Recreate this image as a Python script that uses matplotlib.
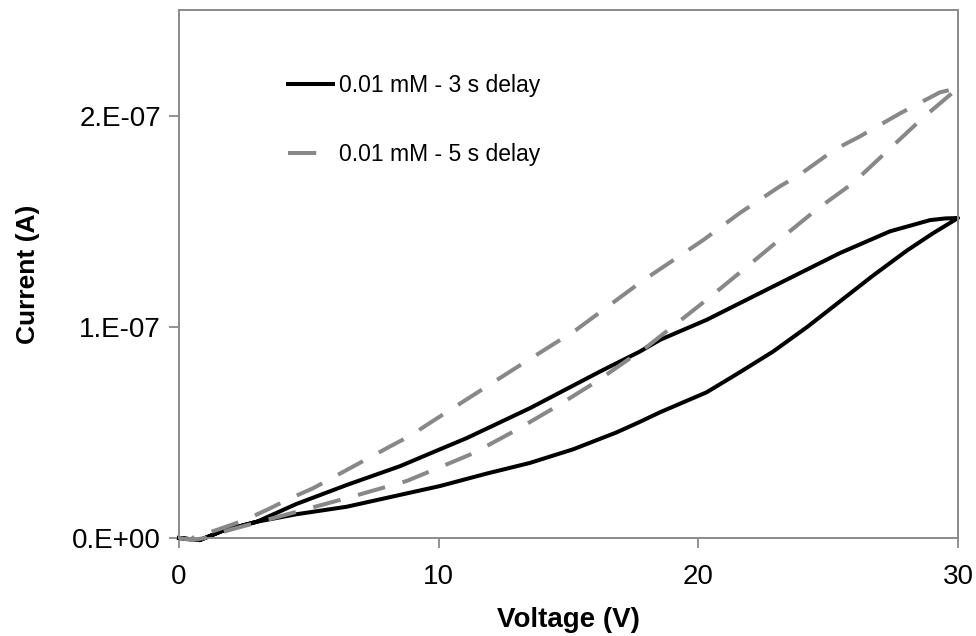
import numpy as np
import matplotlib.pyplot as plt

plt.rcParams['font.family'] = ['Liberation Sans', 'DejaVu Sans']

# 0.01 mM - 3 s delay (units of 1e-7 A), loop: out on lower branch, back on upper
v3 = [0, 0.8, 1.7, 3.0, 4.5, 6.46, 8.51, 10.05, 11.85, 13.5, 15.18, 16.85, 17.75, 18.52, 20.32,
      21.6, 22.88, 24.2, 25.45, 26.7, 28.02, 29.0, 30,
      29.5, 28.92, 27.38, 25.45, 22.88, 20.32, 18.52, 17.75, 16.21, 13.52, 11.08, 10.05, 8.51,
      6.46, 4.5, 3.0, 1.7, 0.8, 0]
i3 = [0, -0.01, 0.035, 0.077, 0.112, 0.148, 0.204, 0.246, 0.305, 0.355, 0.42, 0.5, 0.55, 0.595, 0.69,
      0.785, 0.883, 1.0, 1.12, 1.24, 1.36, 1.44, 1.515,
      1.513, 1.505, 1.452, 1.349, 1.191, 1.033, 0.938, 0.883, 0.788, 0.615, 0.473, 0.42, 0.34,
      0.251, 0.16, 0.077, 0.035, -0.01, 0]

# 0.01 mM - 5 s delay
v5 = [0, 0.5, 1, 2, 3.6, 5, 6.5, 8.77, 9.79, 11.33, 13.0, 14.5, 16.08, 17.56, 18.07, 20.32,
      21.73, 23.0, 24.55, 25.95, 27.3, 28.65, 30,
      29.3, 27.76, 26.2, 25.26, 23.9, 23.14, 21.6, 20.18, 17.82, 15.3, 12.75, 9.79, 8.89, 8.12,
      5.17, 4.15, 3.5, 2.54, 1.5, 0.5]
i5 = [0, -0.01, 0.0, 0.04, 0.093, 0.14, 0.19, 0.27, 0.322, 0.401, 0.512, 0.62, 0.741, 0.867, 0.91, 1.128,
      1.27, 1.40, 1.555, 1.68, 1.835, 1.99, 2.13,
      2.11, 2.01, 1.90, 1.84, 1.72, 1.665, 1.539, 1.41, 1.215, 0.986, 0.788, 0.555, 0.483, 0.433,
      0.236, 0.18, 0.14, 0.085, 0.04, 0.0]

fig = plt.figure(figsize=(9.76, 6.36), dpi=100)
ax = fig.add_axes([0.1834, 0.1541, 0.7982, 0.8302])

ax.plot(v3, np.array(i3) * 1e-7, color='black', lw=2.9, solid_joinstyle='round',
        clip_on=False, label='0.01 mM - 3 s delay')
ax.plot(v5, np.array(i5) * 1e-7, color='#888888', lw=2.9, dashes=(7, 4.5),
        dash_capstyle='butt', clip_on=False, label='0.01 mM - 5 s delay')

ax.set_xlim(0, 30)
ax.set_ylim(0, 2.5e-7)
ax.set_xticks([0, 10, 20, 30])
ax.set_yticks([0, 1e-7, 2e-7])
ax.set_yticklabels(['0.E+00', '1.E-07', '2.E-07'])
ax.tick_params(axis='both', labelsize=20, length=7, width=1.2, color='#7f7f7f', pad=6)
ax.tick_params(axis='x', pad=12)
for s in ax.spines.values():
    s.set_color('#8a8a8a')
    s.set_linewidth(1.4)

ax.set_xlabel('Voltage (V)', fontsize=20, fontweight='bold', labelpad=12)
ax.set_ylabel('Current (A)', fontsize=19, fontweight='bold', labelpad=23)

ax.legend(loc='upper left', bbox_to_anchor=(0.14, 0.879), frameon=False, fontsize=16.5,
          handlelength=1.98, handletextpad=0.25, labelspacing=2.0, borderpad=0, borderaxespad=0)

fig.savefig('out.png', dpi=100)
